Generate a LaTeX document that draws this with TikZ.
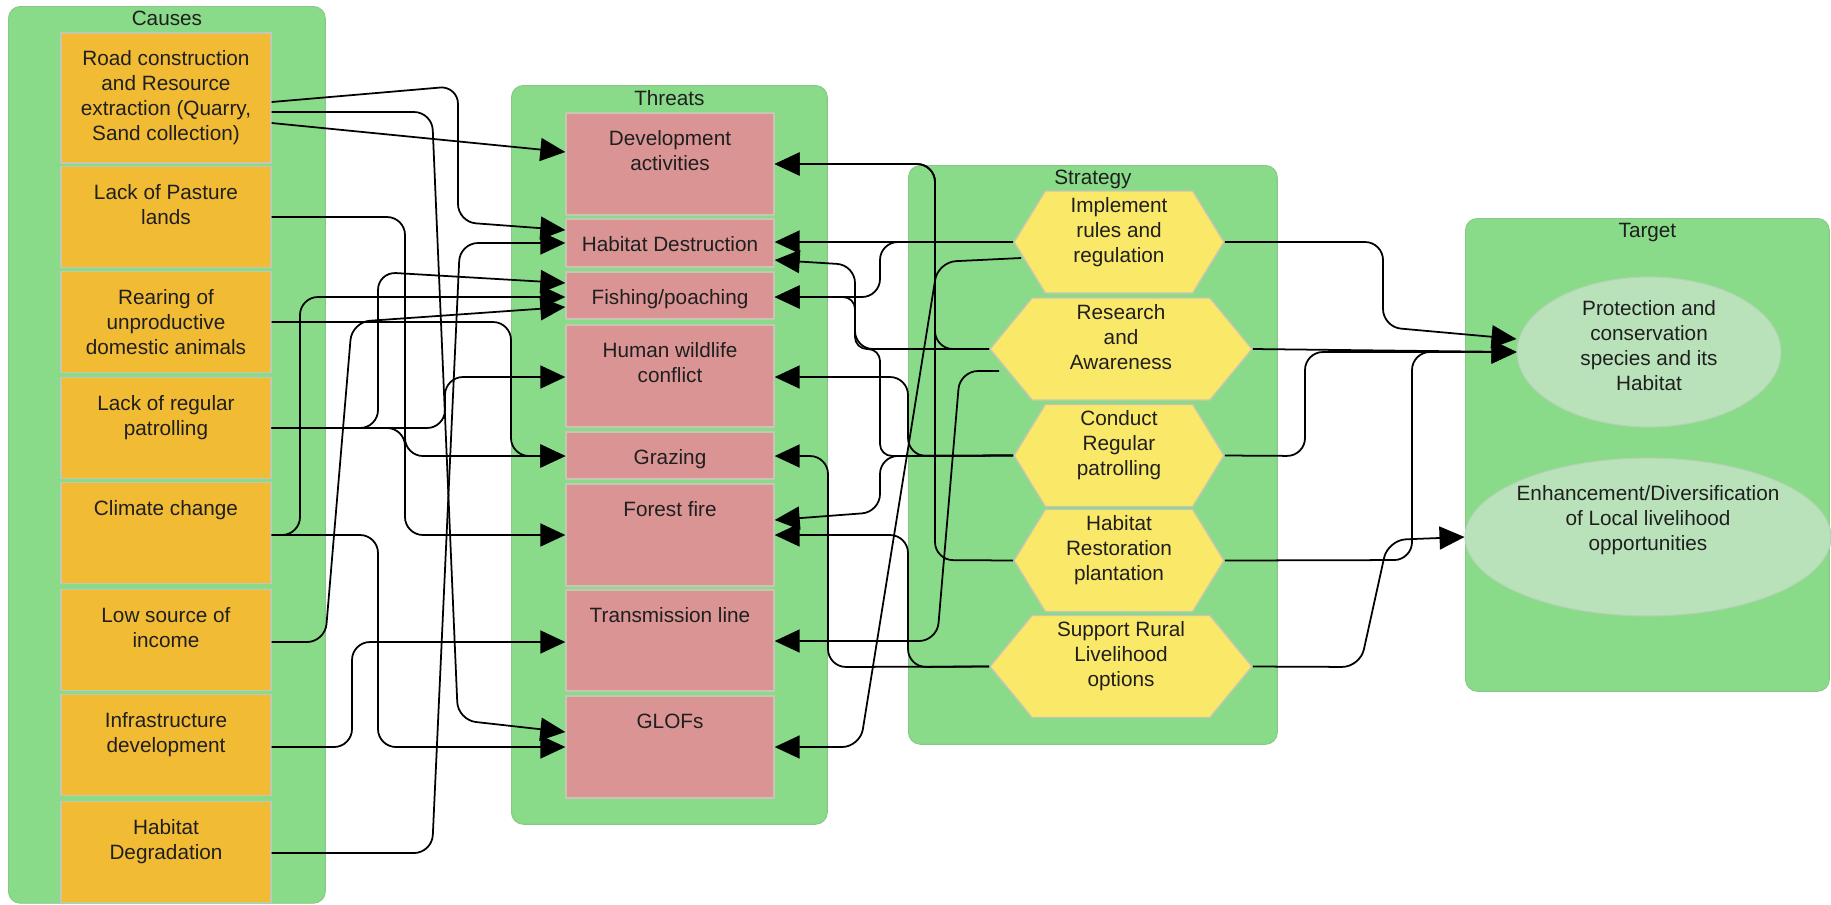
\documentclass[tikz,border=0pt]{standalone}
\usepackage{fontspec}
\setmainfont{Liberation Sans}
\usetikzlibrary{positioning,arrows.meta,shapes.geometric,shapes.symbols}

\definecolor{panelgreen}{RGB}{137,218,137}
\definecolor{causefill}{RGB}{242,187,52}
\definecolor{threatfill}{RGB}{218,148,148}
\definecolor{stratfill}{RGB}{250,232,104}
\definecolor{targetfill}{RGB}{186,226,186}
\definecolor{cellline}{RGB}{198,198,178}

\tikzset{
  panel/.style={draw=panelgreen!80!gray, fill=panelgreen, line width=0.5pt, rounded corners=0.24cm, anchor=north west, inner sep=0pt},
  causecell/.style={draw=cellline, fill=causefill, line width=0.8pt, minimum width=4.2cm, minimum height=2.02cm, inner sep=0pt},
  threatcell/.style={draw=cellline, fill=threatfill, line width=0.8pt, minimum width=4.16cm, inner sep=0pt},
  stratcell/.style={signal, signal to=east and west, draw=cellline, fill=stratfill, line width=0.8pt, minimum height=2.04cm, inner sep=0pt},
  targetcell/.style={ellipse, draw=targetfill!85!gray, fill=targetfill, line width=0.6pt, inner sep=0pt},
  celltext/.style={align=center, inner sep=0pt, text=black!88},
  link/.style={line width=1pt, rounded corners=0.36cm, -{Triangle[length=0.5cm, width=0.46cm]}}
}

\begin{document}
\begin{tikzpicture}[x=0.02cm, y=-0.02cm, font=\fontsize{11.8}{14.2}\selectfont]
  \useasboundingbox (0,0) rectangle (1831,904);
  % Panels
  \node[panel, minimum width=6.34cm, minimum height=17.94cm] (causes) at (8,6) {};
  \node[panel, minimum width=6.32cm, minimum height=14.78cm] (threats) at (511,85) {};
  \node[panel, minimum width=7.38cm, minimum height=11.58cm] (strategy) at (908,165) {};
  \node[panel, minimum width=7.28cm, minimum height=9.46cm] (target) at (1465,218) {};
  \foreach \p/\t in {causes/Causes, threats/Threats, strategy/Strategy, target/Target}
    \node[celltext, below=0.1cm of \p.north] (\p-title) {\t};

  % Causes
  \node[causecell, minimum height=2.6cm] (road) at (166,98) {};
  \foreach \n/\y in {pasture/217, rearing/322, patrol/428, climate/533, income/640, infra/745, degrad/852}
    \node[causecell] (\n) at (166,\y) {};
  \node[celltext, below=0.36cm of road.north] (road-text) {Road construction\\and Resource\\extraction (Quarry,\\Sand collection)};
  \node[celltext, below=0.36cm of pasture.north] (pasture-text) {Lack of Pasture\\lands};
  \node[celltext, below=0.36cm of rearing.north] (rearing-text) {Rearing of\\unproductive\\domestic animals};
  \node[celltext, below=0.36cm of patrol.north] (patrol-text) {Lack of regular\\patrolling};
  \node[celltext, below=0.36cm of climate.north] (climate-text) {Climate change};
  \node[celltext, below=0.36cm of income.north] (income-text) {Low source of\\income};
  \node[celltext, below=0.36cm of infra.north] (infra-text) {Infrastructure\\development};
  \node[celltext, below=0.36cm of degrad.north] (degrad-text) {Habitat\\Degradation};

  % Threats
  \foreach \n/\y/\h in {devact/164/2.04, habdest/243/0.96, fishing/295.5/0.94, hwc/376/2.04,
                        grazing/455.5/0.94, fire/535/2.04, transline/640.5/2.02, glofs/747/2.04}
    \node[threatcell, minimum height=\h cm] (\n) at (670,\y) {};
  \node[celltext, below=0.36cm of devact.north] (devact-text) {Development\\activities};
  \node[celltext, below=0.36cm of habdest.north] (habdest-text) {Habitat Destruction};
  \node[celltext, below=0.36cm of fishing.north] (fishing-text) {Fishing/poaching};
  \node[celltext, below=0.36cm of hwc.north] (hwc-text) {Human wildlife\\conflict};
  \node[celltext, below=0.36cm of grazing.north] (grazing-text) {Grazing};
  \node[celltext, below=0.36cm of fire.north] (fire-text) {Forest fire};
  \node[celltext, below=0.36cm of transline.north] (transline-text) {Transmission line};
  \node[celltext, below=0.36cm of glofs.north] (glofs-text) {GLOFs};

  % Strategy
  \node[stratcell, minimum width=4.2cm, signal pointer angle=117] (rules) at (1119,242) {};
  \node[stratcell, minimum width=5.24cm, signal pointer angle=101] (research) at (1121,349) {};
  \node[stratcell, minimum width=4.2cm, signal pointer angle=117] (conduct) at (1119,455.5) {};
  \node[stratcell, minimum width=4.2cm, signal pointer angle=117] (restore) at (1119,560.5) {};
  \node[stratcell, minimum width=5.24cm, signal pointer angle=101] (support) at (1121,666.5) {};
  \node[celltext, below=0.13cm of rules.north] (rules-text) {Implement\\rules and\\regulation};
  \node[celltext, below=0.13cm of research.north] (research-text) {Research\\and\\Awareness};
  \node[celltext, below=0.13cm of conduct.north] (conduct-text) {Conduct\\Regular\\patrolling};
  \node[celltext, below=0.13cm of restore.north] (restore-text) {Habitat\\Restoration\\plantation};
  \node[celltext, below=0.13cm of support.north] (support-text) {Support Rural\\Livelihood\\options};

  % Target
  \node[targetcell, minimum width=5.28cm, minimum height=3cm] (protect) at (1649,352) {};
  \node[targetcell, minimum width=7.32cm, minimum height=3.16cm] (liveli) at (1648,537) {};
  \node[celltext, below=0.47cm of protect.north] (protect-text) {Protection and\\conservation\\species and its\\Habitat};
  \node[celltext, below=0.55cm of liveli.north] (liveli-text) {Enhancement/Diversification\\of Local livelihood\\opportunities};

  % Causes -> Threats
  \draw[link] (road.east |- 0,123) -- (devact.west |- 0,152);
  \draw[link] (road.east |- 0,102) -- (458,86) -- (458,222) -- (habdest.west |- 0,230);
  \draw[link] (road.east |- 0,112) -- (432,112) -- (458,720) -- (glofs.west |- 0,732);
  \draw[link] (pasture.east) -- (405,217) -- (405,456) -- (grazing.west |- 0,456);
  \draw[link] (rearing.east) -- (511,322) -- (511,456) -- (grazing.west |- 0,456);
  \draw[link] (patrol.east) -- (378,428) -- (378,272) -- (fishing.west |- 0,283);
  \draw[link] (patrol.east) -- (445,428) -- (445,377) -- (hwc.west |- 0,377);
  \draw[link] (patrol.east) -- (405,428) -- (405,535) -- (fire.west |- 0,535);
  \draw[link] (climate.east |- 0,535) -- (300,535) -- (300,297) -- (fishing.west |- 0,297);
  \draw[link] (climate.east |- 0,535) -- (378,535) -- (378,747) -- (glofs.west |- 0,747);
  \draw[link] (income.east |- 0,642) -- (325,642) -- (352,322) -- (fishing.west |- 0,307);
  \draw[link] (infra.east |- 0,747) -- (352,747) -- (352,642) -- (transline.west |- 0,642);
  \draw[link] (degrad.east |- 0,853) -- (432,853) -- (460,243) -- (habdest.west |- 0,243);

  % Strategy -> Threats
  \draw[link] (research.west) -- (935,349) -- (935,164) -- (devact.east |- 0,164);
  \draw[link] (restore.west) -- (935,560) -- (935,164) -- (devact.east |- 0,164);
  \draw[link] (rules.west) -- (habdest.east |- rules.west);
  \draw[link] (rules.west) -- (880,242) -- (880,297) -- (fishing.east |- 0,297);
  \draw[link] (research.west) -- (855,349) -- (855,265) -- (habdest.east |- 0,260);
  \draw[link, rounded corners=0.24cm] (conduct.west) -- (880,456) -- (880,349) -- (855,349) -- (855,297) -- (fishing.east |- 0,297);
  \draw[link] (conduct.west) -- (880,456) -- (880,512) -- (fire.east |- 0,520);
  \draw[link] (conduct.west) -- (908,456) -- (908,377) -- (hwc.east |- 0,377);
  \draw[link] (support.west) -- (908,667) -- (908,535) -- (fire.east |- 0,535);
  \draw[link] (support.west) -- (828,667) -- (828,456) -- (grazing.east |- 0,456);
  \draw[link] ([xshift=0.2cm, yshift=-0.44cm]research.west) -- (960,371) -- (937,641) -- (transline.east |- 0,641);
  \draw[link] ([xshift=0.16cm, yshift=-0.32cm]rules.west) -- (938,262) -- (860,747) -- (glofs.east |- 0,747);

  % Strategy -> Target
  \draw[link] (rules.east) -- (1383,242) -- (1383,327) -- (protect.west |- 0,339);
  \draw[link] (research.east) -- (protect.west);
  \draw[link] (conduct.east) -- (1305,456) -- (1305,352) -- (protect.west);
  \draw[link] (restore.east) -- (1412,560) -- (1412,352) -- (protect.west);
  \draw[link] (support.east) -- (1360,667) -- (1388,540) -- (liveli.west);
\end{tikzpicture}
\end{document}
